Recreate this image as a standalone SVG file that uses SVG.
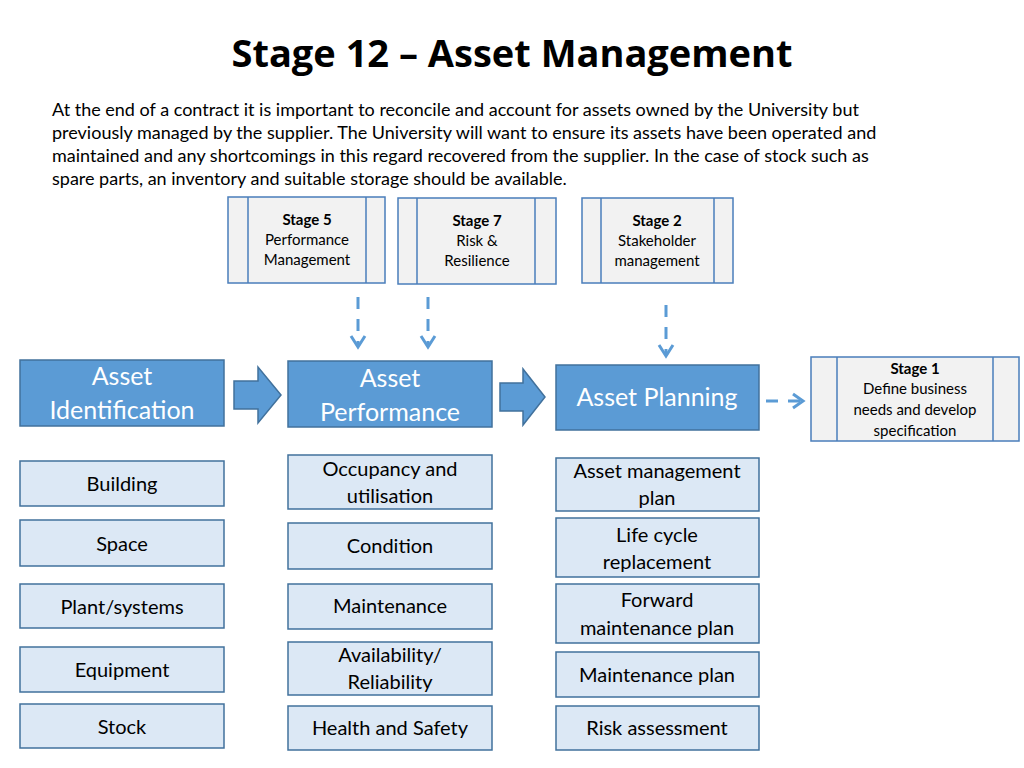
<svg xmlns="http://www.w3.org/2000/svg" width="1024" height="768" viewBox="0 0 1024 768">
<defs>
<style>
text{font-family:Lato,"Open Sans","Liberation Sans",sans-serif;}
.main{fill:#5b9bd5;stroke:#41719c;stroke-width:1.5}
.mt{fill:#fff;font-size:25px;text-anchor:middle}
.sub{fill:#dce8f5;stroke:#41719c;stroke-width:1.5}
.st{fill:#000;font-size:20px;text-anchor:middle}
.pr{fill:#f2f2f2;stroke:#4a7ebb;stroke-width:1.5}
.pt{fill:#000;font-size:15px;text-anchor:middle}
.dash{stroke:#5b9bd5;stroke-width:3;stroke-dasharray:12,10;fill:none}
.head{stroke:#5b9bd5;stroke-width:3;fill:none}
.blk{fill:#5b9bd5;stroke:#41719c;stroke-width:1.5}
</style>
</defs>
<rect width="1024" height="768" fill="#fff"/>
<text x="512" y="67" text-anchor="middle" style="font-family:'Open Sans','Liberation Sans',sans-serif;font-weight:bold;font-size:38px">Stage 12 – Asset Management</text>
<g style="font-size:18px" fill="#000">
<text x="52" y="116">At the end of a contract it is important to reconcile and account for assets owned by the University but</text>
<text x="52" y="139">previously managed by the supplier. The University will want to ensure its assets have been operated and</text>
<text x="52" y="162">maintained and any shortcomings in this regard recovered from the supplier. In the case of stock such as</text>
<text x="52" y="185">spare parts, an inventory and suitable storage should be available.</text>
</g>
<g id="stage5"><rect class="pr" x="228" y="197" width="157" height="86"/><line class="pr" x1="248" y1="197" x2="248" y2="283"/><line class="pr" x1="366" y1="197" x2="366" y2="283"/>
<text class="pt" x="307" y="225" font-weight="bold">Stage 5</text><text class="pt" x="307" y="245">Performance</text><text class="pt" x="307" y="265">Management</text></g>
<g id="stage7"><rect class="pr" x="398" y="198" width="158" height="86"/><line class="pr" x1="417" y1="198" x2="417" y2="284"/><line class="pr" x1="535" y1="198" x2="535" y2="284"/>
<text class="pt" x="477" y="226" font-weight="bold">Stage 7</text><text class="pt" x="477" y="246">Risk &amp;</text><text class="pt" x="477" y="266">Resilience</text></g>
<g id="stage2"><rect class="pr" x="582" y="198" width="151" height="85"/><line class="pr" x1="601" y1="198" x2="601" y2="283"/><line class="pr" x1="714" y1="198" x2="714" y2="283"/>
<text class="pt" x="657" y="226" font-weight="bold">Stage 2</text><text class="pt" x="657" y="246">Stakeholder</text><text class="pt" x="657" y="266">management</text></g>
<g id="stage1"><rect class="pr" x="811" y="357" width="208" height="84"/><line class="pr" x1="837" y1="357" x2="837" y2="441"/><line class="pr" x1="993" y1="357" x2="993" y2="441"/>
<text class="pt" x="915" y="374" font-weight="bold">Stage 1</text><text class="pt" x="915" y="394">Define business</text><text class="pt" x="915" y="415">needs and develop</text><text class="pt" x="915" y="436">specification</text></g>
<g id="asset-identification"><rect class="main" x="20" y="360" width="204" height="66"/><text class="mt" x="122" y="385">Asset</text><text class="mt" x="122" y="419">Identification</text></g>
<g id="asset-performance"><rect class="main" x="288" y="361" width="204" height="66"/><text class="mt" x="390" y="387">Asset</text><text class="mt" x="390" y="421">Performance</text></g>
<g id="asset-planning"><rect class="main" x="556" y="365" width="203" height="65"/><text class="mt" x="657" y="406">Asset Planning</text></g>
<g id="connectors">
<path class="blk" d="M234,381 H258 V367 L281,395 L258,423 V409 H234 Z"/>
<path class="blk" d="M500,383 H523 V369 L545,397 L523,425 V411 H500 Z"/>
<line class="dash" x1="358" y1="297" x2="358" y2="346"/><path class="head" d="M351,336 L358,347 L365,336"/>
<line class="dash" x1="428" y1="297" x2="428" y2="346"/><path class="head" d="M421,336 L428,347 L435,336"/>
<line class="dash" x1="666" y1="305" x2="666" y2="355"/><path class="head" d="M659,345 L666,356 L673,345"/>
<line class="dash" x1="766" y1="401" x2="802" y2="401" stroke-dasharray="12,8"/><path class="head" d="M793,394 L803,401 L793,408"/>
</g>
<g id="building"><rect class="sub" x="20" y="461" width="204" height="45"/><text class="st" x="122" y="491">Building</text></g>
<g id="space"><rect class="sub" x="20" y="520" width="204" height="46"/><text class="st" x="122" y="551">Space</text></g>
<g id="plant"><rect class="sub" x="20" y="584" width="204" height="44"/><text class="st" x="122" y="614">Plant/systems</text></g>
<g id="equipment"><rect class="sub" x="20" y="647" width="204" height="45"/><text class="st" x="122" y="677">Equipment</text></g>
<g id="stock"><rect class="sub" x="20" y="704" width="204" height="44"/><text class="st" x="122" y="734">Stock</text></g>
<g id="occupancy"><rect class="sub" x="288" y="455" width="204" height="54"/><text class="st" x="390" y="476">Occupancy and</text><text class="st" x="390" y="503">utilisation</text></g>
<g id="condition"><rect class="sub" x="288" y="523" width="204" height="46"/><text class="st" x="390" y="553">Condition</text></g>
<g id="maintenance"><rect class="sub" x="288" y="584" width="204" height="45"/><text class="st" x="390" y="613">Maintenance</text></g>
<g id="availability"><rect class="sub" x="288" y="642" width="204" height="53"/><text class="st" x="390" y="662">Availability/</text><text class="st" x="390" y="689">Reliability</text></g>
<g id="health"><rect class="sub" x="288" y="706" width="204" height="44"/><text class="st" x="390" y="735">Health and Safety</text></g>
<g id="amp"><rect class="sub" x="556" y="458" width="203" height="53"/><text class="st" x="657" y="478">Asset management</text><text class="st" x="657" y="505">plan</text></g>
<g id="lifecycle"><rect class="sub" x="556" y="518" width="203" height="59"/><text class="st" x="657" y="542">Life cycle</text><text class="st" x="657" y="569">replacement</text></g>
<g id="forward"><rect class="sub" x="556" y="584" width="203" height="59"/><text class="st" x="657" y="607">Forward</text><text class="st" x="657" y="635">maintenance plan</text></g>
<g id="mplan"><rect class="sub" x="556" y="652" width="203" height="45"/><text class="st" x="657" y="682">Maintenance plan</text></g>
<g id="risk"><rect class="sub" x="556" y="706" width="203" height="44"/><text class="st" x="657" y="735">Risk assessment</text></g>
</svg>
